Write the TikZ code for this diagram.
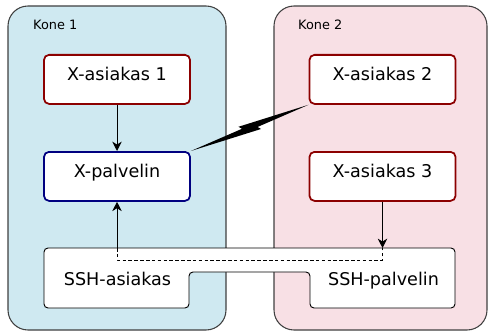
\documentclass[tikz,border=0pt]{standalone}
\usepackage{fontspec}
\setmainfont{DejaVu Sans}
\usetikzlibrary{calc,arrows.meta}
\definecolor{koneblue}{RGB}{207,233,241}
\definecolor{konepink}{RGB}{248,224,229}
\definecolor{xred}{RGB}{140,0,0}
\definecolor{xblue}{RGB}{0,0,128}
\tikzset{>={Stealth[length=8pt,width=8pt,inset=2.5pt]}}
\tikzstyle{arrow} = [thick,->]
\tikzstyle{kone} = [draw=black!75, line width=0.9pt, rounded corners=0.6cm]
\tikzstyle{xbox} = [draw, fill=white, line width=1.5pt, rounded corners=0.15cm,
  minimum width=4.38cm, inner ysep=0pt, text height=0.78cm, text depth=0.69cm,
  anchor=north, font=\fontsize{15}{18}\selectfont]
\tikzstyle{sshtext} = [anchor=base, font=\fontsize{15}{18}\selectfont]

\begin{document}
\begin{tikzpicture}[x=0.03cm, y=0.03cm]
\useasboundingbox (0,0) rectangle (488,331);

% the two machines
\draw [kone, fill=koneblue] (8,1) rectangle (226,325);
\draw [kone, fill=konepink] (274,1) rectangle (487,325);
\foreach \l/\x in {1/33, 2/298}
  \node [anchor=base west, inner sep=0pt, font=\fontsize{11}{13}\selectfont] (kone-\l) at (\x,301) {Kone \l};

% X programs
\node [xbox, draw=xred] (xas-1) at (117,277) {X-asiakas 1};
\node [xbox, draw=xblue] (xpal) at (117,180) {X-palvelin};
\node [xbox, draw=xred] (xas-2) at (382.5,277) {X-asiakas 2};
\node [xbox, draw=xred] (xas-3) at (382.5,180) {X-asiakas 3};

% SSH connection
\draw [fill=white, line width=0.8pt, rounded corners=0.12cm]
  (44,83) -- (455,83) -- (455,23) -- (310,23) -- (310,59)
  -- (189,59) -- (189,23) -- (44,23) -- cycle;
\node [sshtext] (ssh-c) at (117.5,46) {SSH-asiakas};
\node [sshtext] (ssh-s) at (383.5,46) {SSH-palvelin};
\coordinate (sshtop) at (250,83);
\coordinate (tunnel) at (250,71);

\draw [arrow] (xas-1) -- (xpal);
\draw [arrow] (xpal.south |- sshtop) -- (xpal.south);
\draw [arrow] (xas-3.south) -- (xas-3.south |- sshtop);
\draw [thin, dash pattern=on 3pt off 2pt]
  (xpal.south |- sshtop) |- (tunnel) -| (xas-3.south |- sshtop);

% direct X connection
\fill (xpal.north east)
  -- ($(xpal.north east)!0.44!(xas-2.south west)!1.7pt!90:(xas-2.south west)$)
  -- ($(xpal.north east)!0.42!(xas-2.south west)!4.4pt!90:(xas-2.south west)$)
  -- (xas-2.south west)
  -- ($(xpal.north east)!0.56!(xas-2.south west)!1.7pt!-90:(xas-2.south west)$)
  -- ($(xpal.north east)!0.58!(xas-2.south west)!4.4pt!-90:(xas-2.south west)$)
  -- cycle;

\end{tikzpicture}
\end{document}
